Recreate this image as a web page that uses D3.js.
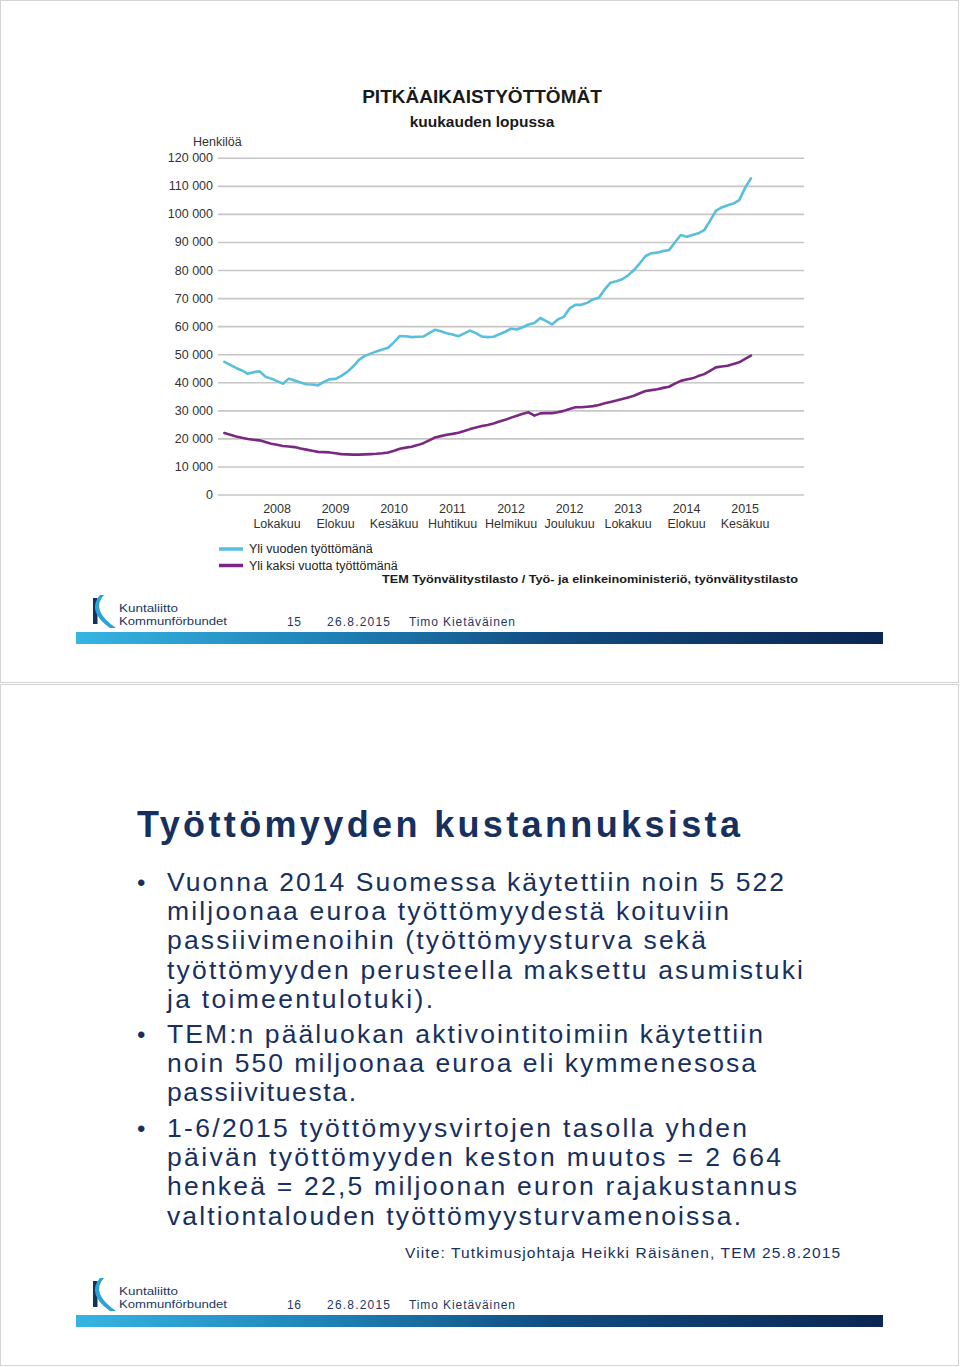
<!DOCTYPE html>
<html><head><meta charset="utf-8">
<script src="https://cdn.jsdelivr.net/npm/d3@7"></script>
<style>
html,body{margin:0;padding:0;background:#fff;}
svg{display:block;}
</style></head>
<body>
<script>
// ---------- DATA ----------
// monthly values, Jan 2008 .. Jul 2015 (91 months), persons
const longTermOver1y = [47300,46200,45100,44200,43000,43600,43900,42000,41300,40400,
  39500,41300,40600,39900,39300,39200,38900,40100,41100,41200,
  42300,43700,45600,48000,49400,50200,51000,51700,52300,54300,
  56500,56400,56100,56200,56300,57500,58700,58200,57500,57000,
  56400,57400,58400,57500,56300,56100,56200,57100,58000,59100,
  58800,59600,60600,61100,62900,61800,60600,62400,63300,66300,
  67600,67600,68300,69500,70100,73100,75500,76000,76700,78100,
  80000,82400,85000,86000,86200,86800,87100,89800,92500,91900,
  92500,93100,94200,97500,101100,102300,103100,103700,104900,109300,112700];
const longTermOver2y = [21900,21300,20700,20200,19800,19500,19300,18700,18100,17700,
  17300,17100,16900,16400,16000,15600,15200,15100,15000,14700,
  14400,14300,14200,14200,14300,14400,14500,14700,15000,15600,
  16300,16700,17000,17600,18300,19300,20300,20800,21300,21600,
  22000,22600,23300,23900,24400,24800,25300,26000,26600,27400,
  28100,28800,29300,28100,28900,29000,29000,29300,29800,30500,
  31100,31100,31300,31500,31900,32500,33000,33500,34000,34600,
  35200,36100,36900,37200,37500,38000,38400,39500,40500,41000,
  41400,42200,42900,44100,45300,45600,45900,46500,47100,48300,49500];
const categoryCount = 100;               // category axis length (incl. empty months)
const xTickIndex  = [9,19,29,39,49,59,69,79,89];
const xTickYears  = ["2008","2009","2010","2011","2012","2012","2013","2014","2015"];
const xTickMonths = ["Lokakuu","Elokuu","Kesäkuu","Huhtikuu","Helmikuu","Joulukuu","Lokakuu","Elokuu","Kesäkuu"];
const yTicks = [0,10000,20000,30000,40000,50000,60000,70000,80000,90000,100000,110000,120000];
const seriesNames = ["Yli vuoden työttömänä","Yli kaksi vuotta työttömänä"];
const seriesColors = ["#58bfdc","#7a2983"];

const bullets = [
  ["Vuonna 2014 Suomessa käytettiin noin 5 522","miljoonaa euroa työttömyydestä koituviin","passiivimenoihin (työttömyysturva sekä","työttömyyden perusteella maksettu asumistuki","ja toimeentulotuki)."],
  ["TEM:n pääluokan aktivointitoimiin käytettiin","noin 550 miljoonaa euroa eli kymmenesosa","passiivituesta."],
  ["1-6/2015 työttömyysvirtojen tasolla yhden","päivän työttömyyden keston muutos = 2 664","henkeä = 22,5 miljoonan euron rajakustannus","valtiontalouden työttömyysturvamenoissa."]
];
const bulletLineWidths = [[617,562,539,636,266],[596,589,189],[580,614,630,574]];

// ---------- DRAW ----------
const W = 960, H = 1367;
const svg = d3.select("body").append("svg").attr("width", W).attr("height", H)
  .style("font-family", "'Liberation Sans', Arial, sans-serif");

const defs = svg.append("defs");
const grad = defs.append("linearGradient").attr("id","bar").attr("x1","0").attr("x2","1");
grad.append("stop").attr("offset","0").attr("stop-color","#36b4e2");
grad.append("stop").attr("offset","0.3").attr("stop-color","#1f84b8");
grad.append("stop").attr("offset","0.6").attr("stop-color","#114b80");
grad.append("stop").attr("offset","1").attr("stop-color","#0b2652");

// slide frames
svg.append("rect").attr("x",0.5).attr("y",0.5).attr("width",958).attr("height",682)
  .attr("fill","#fff").attr("stroke","#d4d4d4");
svg.append("rect").attr("x",0.5).attr("y",684.5).attr("width",958).attr("height",681)
  .attr("fill","#fff").attr("stroke","#d4d4d4");

// ---- chart ----
const x = d3.scaleLinear().domain([0, categoryCount - 1]).range([224.4, 803.6]);
const y = d3.scaleLinear().domain([0, 120000]).range([494.5, 157.8]);
const gridLeft = 218, gridRight = 804;

svg.append("text").attr("x",482).attr("y",103).attr("text-anchor","middle")
  .attr("font-size",19).attr("font-weight","bold").attr("fill","#1a1a1a")
  .text("PITKÄAIKAISTYÖTTÖMÄT");
svg.append("text").attr("x",482).attr("y",127).attr("text-anchor","middle")
  .attr("font-size",15.5).attr("font-weight","bold").attr("fill","#1a1a1a")
  .text("kuukauden lopussa");
svg.append("text").attr("x",193).attr("y",146)
  .attr("font-size",12.5).attr("fill","#333").text("Henkilöä");

const yAxis = d3.axisLeft(y).tickValues(yTicks)
  .tickSize(-(gridRight - gridLeft)).tickPadding(5)
  .tickFormat(d => d3.format(",")(d).replace(/,/g, " "));
const yg = svg.append("g").attr("transform", `translate(${gridLeft},0)`).call(yAxis);
yg.select(".domain").remove();
yg.selectAll(".tick line").attr("stroke","#c6c6c6").attr("stroke-width",1.6);
yg.selectAll(".tick text").attr("font-size",12.5).attr("fill","#333")
  .attr("font-family","'Liberation Sans', Arial, sans-serif");

// x labels
const xl = svg.append("g");
xTickIndex.forEach((idx, i) => {
  xl.append("text").attr("x", x(idx)).attr("y", 513).attr("text-anchor","middle")
    .attr("font-size",12.5).attr("fill","#333").text(xTickYears[i]);
  xl.append("text").attr("x", x(idx)).attr("y", 528).attr("text-anchor","middle")
    .attr("font-size",12.5).attr("fill","#333").text(xTickMonths[i]);
});

// lines
const line = d3.line().x((d,i) => x(i)).y(d => y(d)).curve(d3.curveLinear);
[longTermOver1y, longTermOver2y].forEach((s, k) => {
  svg.append("path").datum(s).attr("d", line).attr("fill","none")
    .attr("stroke", seriesColors[k]).attr("stroke-width",2.6)
    .attr("stroke-linejoin","round").attr("stroke-linecap","round");
});

// legend
seriesNames.forEach((n, k) => {
  const ly = 549 + k * 16.5;
  svg.append("line").attr("x1",219).attr("x2",243).attr("y1",ly).attr("y2",ly)
    .attr("stroke", seriesColors[k]).attr("stroke-width",3.5);
  svg.append("text").attr("x",249).attr("y",ly+4).attr("font-size",12.5)
    .attr("fill","#222").text(n);
});
svg.append("text").attr("x",382).attr("y",583).attr("font-size",11.5)
  .attr("font-weight","bold").attr("fill","#1a1a1a")
  .attr("textLength",416).attr("lengthAdjust","spacingAndGlyphs")
  .text("TEM Työnvälitystilasto / Työ- ja elinkeinoministeriö, työnvälitystilasto");

// ---- footers ----
function footer(top, pageNo) {
  const g = svg.append("g").attr("transform", `translate(0,${top})`);
  // logo symbol
  g.append("rect").attr("x",93).attr("y",3).attr("width",4.5).attr("height",26).attr("fill","#13335f");
  g.append("path").attr("d","M104,0 Q90,15 116,33 L110,33 Q86,16 100,0 Z").attr("fill","#2aa3d8");
  g.append("text").attr("x",119).attr("y",16.5).attr("font-size",11.5).attr("fill","#1b3866")
    .attr("textLength",59).attr("lengthAdjust","spacingAndGlyphs").text("Kuntaliitto");
  g.append("text").attr("x",119).attr("y",30).attr("font-size",11.5).attr("fill","#1b3866")
    .attr("textLength",108).attr("lengthAdjust","spacingAndGlyphs").text("Kommunförbundet");
  const fs = 12, fy = 31;
  g.append("text").attr("x",287).attr("y",fy).attr("font-size",fs).attr("fill","#1b3866")
    .attr("textLength",14).attr("lengthAdjust","spacing").text(pageNo);
  g.append("text").attr("x",327).attr("y",fy).attr("font-size",fs).attr("fill","#1b3866")
    .attr("textLength",63).attr("lengthAdjust","spacing").text("26.8.2015");
  g.append("text").attr("x",409).attr("y",fy).attr("font-size",fs).attr("fill","#1b3866")
    .attr("textLength",106).attr("lengthAdjust","spacing").text("Timo Kietäväinen");
  g.append("rect").attr("x",76).attr("y",37).attr("width",807).attr("height",12).attr("fill","url(#bar)");
}
footer(595, "15");
footer(1278, "16");

// ---- slide 2 ----
const navy = "#17305f";
svg.append("text").attr("x",137).attr("y",837).attr("font-size",36).attr("font-weight","bold")
  .attr("fill",navy).attr("textLength",603).attr("lengthAdjust","spacing")
  .text("Työttömyyden kustannuksista");

const lineH = 29.2;
const blockStarts = [891, 1043, 1137];
bullets.forEach((b, bi) => {
  svg.append("text").attr("x",137).attr("y",blockStarts[bi]).attr("font-size",24)
    .attr("fill",navy).text("•");
  b.forEach((t, li) => {
    svg.append("text").attr("x",167).attr("y",blockStarts[bi] + li*lineH)
      .attr("font-size",26.5).attr("fill",navy)
      .attr("textLength",bulletLineWidths[bi][li]).attr("lengthAdjust","spacing")
      .text(t);
  });
});
svg.append("text").attr("x",405).attr("y",1258).attr("font-size",15.5).attr("fill",navy)
  .attr("textLength",435).attr("lengthAdjust","spacing")
  .text("Viite: Tutkimusjohtaja Heikki Räisänen, TEM 25.8.2015");
</script>
</body></html>
